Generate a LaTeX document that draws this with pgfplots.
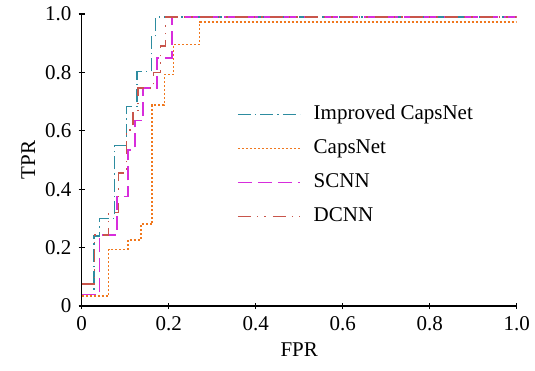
\documentclass[border=0pt]{standalone}
\usepackage{pgfplots}
\pgfplotsset{compat=1.18}
\usepackage{fontspec}
\setmainfont{Liberation Serif}
\definecolor{cteal}{RGB}{45,140,160}
\definecolor{corange}{RGB}{240,120,30}
\definecolor{cmag}{RGB}{215,45,220}
\definecolor{cred}{RGB}{200,85,75}
\begin{document}
\fontsize{21}{25}\selectfont
\begin{tikzpicture}
\useasboundingbox (-81.7pt,-64pt) rectangle (453.3pt,306pt);
\begin{axis}[
  at={(0,0)}, anchor=south west,
  scale only axis, width=435pt, height=292pt,
  xmin=0, xmax=1, ymin=0, ymax=1,
  axis lines=left, axis line style={-, line width=1.2pt},
  tick style={line width=1.2pt, black},
  major tick length=6pt,
  xtick={0,0.2,0.4,0.6,0.8,1.0},
  xticklabels={0,0.2,0.4,0.6,0.8,1.0},
  ytick={0,0.2,0.4,0.6,0.8,1.0},
  yticklabels={0,0.2,0.4,0.6,0.8,1.0},
  tick label style={font=\fontsize{21}{25}\selectfont},
  label style={font=\fontsize{21}{25}\selectfont},
  xlabel={FPR}, ylabel={TPR},
  xlabel style={yshift=2pt},
  ylabel style={yshift=-4pt},
  legend cell align=left,
  legend style={draw=none, fill=none, at={(axis cs:0.357,0.697)}, anchor=north west,
    font=\fontsize{21}{25}\selectfont, row sep=10pt, inner sep=0pt,
    nodes={inner sep=2pt, text height=15pt, text depth=5pt}},
]
\addplot[cteal, line width=1.5pt, dash pattern=on 13pt off 4pt on 1.5pt off 4pt, forget plot] coordinates {
(0,0.04)(0.028,0.04)(0.028,0.24)(0.041,0.24)(0.041,0.30)(0.075,0.30)(0.075,0.55)(0.103,0.55)(0.103,0.683)(0.127,0.683)(0.127,0.803)(0.160,0.803)(0.160,0.923)(0.170,0.923)(0.170,0.99)(1,0.99)};
\addplot[corange, line width=1.5pt, dash pattern=on 2pt off 2pt, forget plot] coordinates {
(0,0.034)(0.062,0.034)(0.062,0.194)(0.106,0.194)(0.106,0.226)(0.136,0.226)(0.136,0.280)(0.162,0.280)(0.162,0.689)(0.19,0.689)(0.19,0.792)(0.211,0.792)(0.211,0.895)(0.271,0.895)(0.271,0.973)(1,0.973)};
\addplot[cmag, line width=1.5pt, dash pattern=on 14pt off 6pt, forget plot] coordinates {
(0,0.04)(0.041,0.04)(0.041,0.243)(0.081,0.243)(0.081,0.375)(0.106,0.375)(0.106,0.535)(0.122,0.535)(0.122,0.635)(0.141,0.635)(0.141,0.746)(0.173,0.746)(0.173,0.849)(0.208,0.849)(0.208,0.99)(1,0.99)};
\addplot[cred, line width=1.5pt, dash pattern=on 13pt off 6pt on 1.5pt off 6pt on 1.5pt off 7pt, forget plot] coordinates {
(0,0.075)(0.03,0.075)(0.03,0.243)(0.062,0.243)(0.062,0.32)(0.085,0.32)(0.085,0.455)(0.103,0.455)(0.103,0.603)(0.118,0.603)(0.118,0.67)(0.13,0.67)(0.13,0.746)(0.165,0.746)(0.165,0.80)(0.181,0.80)(0.181,0.89)(0.193,0.89)(0.193,0.99)(1,0.99)};
\addlegendimage{legend image code/.code={\draw[cteal, line width=1.5pt, dash pattern=on 13pt off 4pt on 1.5pt off 4pt] (0pt,0pt) -- (62pt,0pt);}}
\addlegendentry{\hspace*{11pt}Improved CapsNet}
\addlegendimage{legend image code/.code={\draw[corange, line width=1.5pt, dash pattern=on 2pt off 2pt] (0pt,0pt) -- (62pt,0pt);}}
\addlegendentry{\hspace*{11pt}CapsNet}
\addlegendimage{legend image code/.code={\draw[cmag, line width=1.5pt, dash pattern=on 14pt off 6pt] (0pt,0pt) -- (62pt,0pt);}}
\addlegendentry{\hspace*{11pt}SCNN}
\addlegendimage{legend image code/.code={\draw[cred, line width=1.5pt, dash pattern=on 13pt off 6pt on 1.5pt off 6pt on 1.5pt off 7pt] (0pt,0pt) -- (62pt,0pt);}}
\addlegendentry{\hspace*{11pt}DCNN}
\end{axis}
\end{tikzpicture}
\end{document}
